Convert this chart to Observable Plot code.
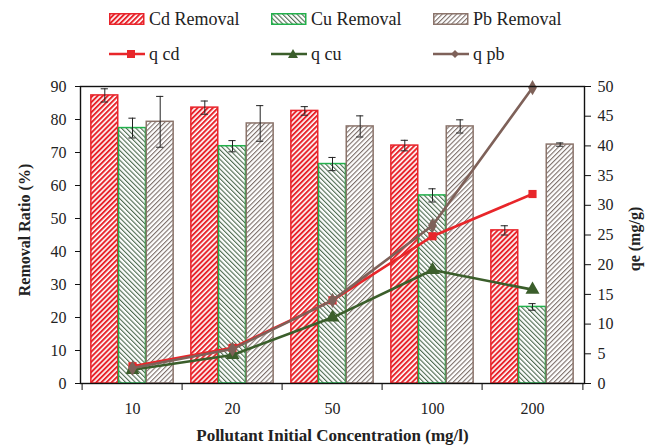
<!DOCTYPE html>
<html><head><meta charset="utf-8">
<script src="https://cdn.jsdelivr.net/npm/d3@7"></script>
<script src="https://cdn.jsdelivr.net/npm/@observablehq/plot@0.6"></script>
<style>
body{margin:0;background:#fff;font-family:"Liberation Serif",serif;}
#legend{position:relative;width:653px;height:70px;}
.item{position:absolute;display:flex;align-items:center;font-size:18px;color:#222;height:20px;}
.item svg{margin-right:4px;}
</style></head><body>
<svg width="0" height="0" style="position:absolute">
<defs>
<pattern id="hCd" patternUnits="userSpaceOnUse" width="3.6" height="3.6" patternTransform="rotate(45)">
<rect width="3.6" height="3.6" fill="#fff"/><rect width="2" height="3.6" fill="#e8242b"/>
</pattern>
<pattern id="hCu" patternUnits="userSpaceOnUse" width="3.4" height="3.4" patternTransform="rotate(-45)">
<rect width="3.4" height="3.4" fill="#fff"/><rect width="1.1" height="3.4" fill="#4d6a4f"/>
</pattern>
<pattern id="hPb" patternUnits="userSpaceOnUse" width="3.4" height="3.4" patternTransform="rotate(45)">
<rect width="3.4" height="3.4" fill="#fff"/><rect width="1.1" height="3.4" fill="#7d6f6a"/>
</pattern>
</defs></svg>
<div id="legend"></div>
<div id="chart"></div>
<script>
const concentrations = ["10", "20", "50", "100", "200"];
const cdRemoval = [87.3, 83.6, 82.6, 72.1, 46.4];
const cdErr = [2.0, 2.0, 1.3, 1.6, 1.4];
const cuRemoval = [77.4, 71.9, 66.5, 57.0, 23.2];
const cuErr = [3.0, 1.7, 2.0, 2.0, 1.0];
const pbRemoval = [79.3, 78.8, 77.9, 77.9, 72.4];
const pbErr = [7.7, 5.4, 3.2, 2.0, 0.5];
const qCd = [2.9, 6.0, 14.0, 24.8, 31.9];
const qCu = [2.3, 4.8, 11.1, 19.1, 15.8];
const qPb = [2.6, 5.8, 14.0, 26.6, 49.8];
const leftTicks = [0, 10, 20, 30, 40, 50, 60, 70, 80, 90];
const rightTicks = [0, 5, 10, 15, 20, 25, 30, 35, 40, 45, 50];
const seriesNames = ["Cd Removal", "Cu Removal", "Pb Removal"];
const lineNames = ["q cd", "q cu", "q pb"];

const FONT = "Liberation Serif";
const W = 653, H = 377, mL = 80, mR = 69, mT = 16, mB = 64;
const K = 90 / 50; // right axis (0-50) mapped onto left (0-90)
const band = (W - mL - mR) / concentrations.length;
const bw = 27.7;
const pad = (band - 3 * bw) / 2;
const plotH = H - mT - mB;

const barStyles = [
  {vals: cdRemoval, err: cdErr, fill: "url(#hCd)", stroke: "#e8242b"},
  {vals: cuRemoval, err: cuErr, fill: "url(#hCu)", stroke: "#22b04b"},
  {vals: pbRemoval, err: pbErr, fill: "url(#hPb)", stroke: "#8b746b"}
];
const lineStyles = [
  {vals: qCd, color: "#e8262a", symbol: "square", r: 4.6},
  {vals: qCu, color: "#3b5e2b", symbol: "triangle", r: 5.2},
  {vals: qPb, color: "#7e6159", symbol: "diamond", r: 4.6}
];

const marks = [];
barStyles.forEach((s, k) => {
  marks.push(Plot.barY(concentrations, {
    x: d => d, y: (d, i) => s.vals[i], fill: s.fill, stroke: s.stroke, strokeWidth: 1.5,
    insetLeft: pad + k * bw, insetRight: band - pad - (k + 1) * bw
  }));
});
barStyles.forEach((s, k) => {
  const c = pad + k * bw + bw / 2;
  marks.push(Plot.ruleX(concentrations, {
    x: d => d, y1: (d, i) => s.vals[i] - s.err[i], y2: (d, i) => s.vals[i] + s.err[i],
    dx: c - band / 2, stroke: "#222", strokeWidth: 1
  }));
  const capOpts = {x: d => d, stroke: "#222", strokeWidth: 1, insetLeft: c - 4, insetRight: band - c - 4};
  marks.push(Plot.tickY(concentrations, {...capOpts, y: (d, i) => s.vals[i] - s.err[i]}));
  marks.push(Plot.tickY(concentrations, {...capOpts, y: (d, i) => s.vals[i] + s.err[i]}));
});
lineStyles.forEach(s => {
  marks.push(Plot.line(concentrations, {x: d => d, y: (d, i) => s.vals[i] * K, stroke: s.color, strokeWidth: 2.6}));
  marks.push(Plot.dot(concentrations, {x: d => d, y: (d, i) => s.vals[i] * K, symbol: s.symbol, r: s.r, fill: s.color, stroke: "none"}));
});
marks.push(Plot.frame({stroke: "#111", strokeWidth: 1.4}));
marks.push(Plot.tickX(concentrations, {x: d => d, dx: -band / 2, insetTop: plotH - 7, dy: 7, stroke: "#111"}));
marks.push(Plot.tickX([concentrations[concentrations.length - 1]], {x: d => d, dx: band / 2, insetTop: plotH - 7, dy: 7, stroke: "#111"}));
marks.push(Plot.axisY(leftTicks, {anchor: "left", tickSize: 5, tickPadding: 9, fontSize: 16, fontFamily: FONT, label: null, stroke: "#111"}));
marks.push(Plot.axisY(rightTicks.map(v => v * K), {anchor: "right", tickSize: 6, tickPadding: 7, fontSize: 16, fontFamily: FONT, label: null, tickFormat: v => String(Math.round(v / K)), stroke: "#111"}));
marks.push(Plot.axisX({anchor: "bottom", tickSize: 0, tickPadding: 19, fontSize: 16, fontFamily: FONT, label: null}));
marks.push(Plot.text(["Removal Ratio (%)"], {text: d => d, frameAnchor: "left", textAnchor: "middle", dx: -56, dy: -5, rotate: -90, fontWeight: "bold", fontSize: 16, fontFamily: FONT, fill: "#222"}));
marks.push(Plot.text(["qe (mg/g)"], {text: d => d, frameAnchor: "right", textAnchor: "middle", dx: 50, dy: 4, rotate: -90, fontWeight: "bold", fontSize: 16, fontFamily: FONT, fill: "#222"}));
marks.push(Plot.text(["Pollutant Initial Concentration (mg/l)"], {text: d => d, frameAnchor: "bottom", dy: 57, fontWeight: "bold", fontSize: 17, fontFamily: FONT, fill: "#222"}));

const chart = Plot.plot({
  width: W, height: H, marginLeft: mL, marginRight: mR, marginTop: mT, marginBottom: mB,
  x: {domain: concentrations, paddingInner: 0, paddingOuter: 0, axis: null},
  y: {domain: [0, 90], axis: null},
  style: {fontFamily: "'Liberation Serif', serif", fontSize: "16px", color: "#222", background: "#fff", overflow: "visible"},
  marks
});
document.getElementById("chart").appendChild(chart);

// legend
const legend = document.getElementById("legend");
const xs = [109, 271, 433];
seriesNames.forEach((name, k) => {
  const s = barStyles[k];
  const div = document.createElement("div");
  div.className = "item";
  div.style.left = xs[k] + "px";
  div.style.top = (19 - 10) + "px";
  div.innerHTML = `<svg width="36" height="12"><rect x="0.75" y="0.75" width="34" height="10.5" fill="${s.fill}" stroke="${s.stroke}" stroke-width="1.5"/></svg><span>${name}</span>`;
  legend.appendChild(div);
});
const symPaths = {
  square: "M-4,-4h8v8h-8z",
  triangle: "M0,-5L5,4H-5z",
  diamond: "M0,-4L4,0L0,4L-4,0z"
};
lineNames.forEach((name, k) => {
  const s = lineStyles[k];
  const div = document.createElement("div");
  div.className = "item";
  div.style.left = xs[k] + "px";
  div.style.top = (54 - 10) + "px";
  div.innerHTML = `<svg width="36" height="12"><line x1="0" y1="6" x2="36" y2="6" stroke="${s.color}" stroke-width="2.6"/><path transform="translate(22,6)" d="${symPaths[s.symbol]}" fill="${s.color}"/></svg><span>${name}</span>`;
  legend.appendChild(div);
});
</script>
</body></html>
